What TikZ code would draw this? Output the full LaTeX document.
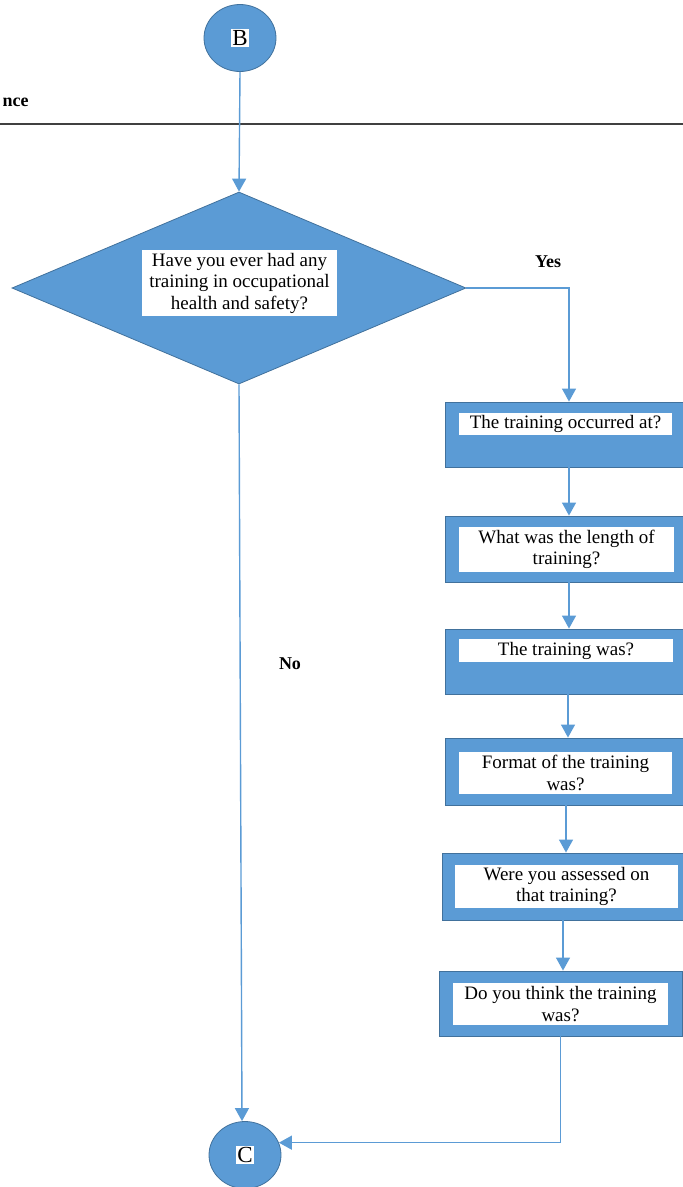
\documentclass[tikz,border=0pt]{standalone}
\usepackage{fontspec}
\setmainfont{Liberation Serif}
\usetikzlibrary{shapes.geometric,arrows.meta}
\definecolor{boxblue}{HTML}{5B9BD5}
\definecolor{edgeblue}{HTML}{41719C}

\begin{document}
\begin{tikzpicture}[x=1pt,y=-1pt,
		flow/.style={draw=boxblue,line width=1.4pt,-{Triangle[length=13pt,width=14pt]}},
		qbox/.style={rectangle,draw=edgeblue,line width=.9pt,fill=boxblue,inner sep=0pt},
		qtext/.style={rectangle,fill=white,align=center,inner sep=1pt,font=\fontsize{19}{21.5}\selectfont},
		term/.style={ellipse,draw=edgeblue,line width=.8pt,fill=boxblue,minimum width=72pt,minimum height=67pt,inner sep=0pt,font=\fontsize{23}{25}\selectfont},
		lbl/.style={font=\fontsize{18}{21}\selectfont\bfseries}]
	
	\useasboundingbox (0,0) rectangle (683,1187);
	\fboxsep=1.5pt
	
	\node[lbl,anchor=west] (sect) at (-1,102) {nce};
	\draw[line width=1.6pt,black!75] (0,124)--(683,124);
	
	\node[term] (B) at (240,38) {\colorbox{white}{B}};
	\node[term] (C) at (245,1155) {\colorbox{white}{C}};
	
	\node[diamond,draw=edgeblue,line width=.8pt,fill=boxblue,minimum width=454pt,minimum height=192pt,inner sep=0pt] (dec) at (239,288) {};
	\node[qtext,minimum width=195pt,minimum height=66pt] (dtxt) at (239.5,283) {Have you ever had any\\training in occupational\\health and safety?};
	
	\node[qbox,minimum width=238pt,minimum height=65pt] (q1) at (564,434.5) {};
	\node[qbox,minimum width=238pt,minimum height=66pt] (q2) at (564,549) {};
	\node[qbox,minimum width=238pt,minimum height=65pt] (q3) at (564,661.5) {};
	\node[qbox,minimum width=238pt,minimum height=67pt] (q4) at (564,771.5) {};
	\node[qbox,minimum width=241pt,minimum height=67pt] (q5) at (562.5,886.5) {};
	\node[qbox,minimum width=243pt,minimum height=65pt] (q6) at (560.5,1003.5) {};
	
	\node[qtext,minimum width=213pt,minimum height=22pt] (t1) at (565.5,424) {The training occurred at?};
	\node[qtext,minimum width=215pt,minimum height=45pt] (t2) at (566.5,549.5) {What was the length of\\training?};
	\node[qtext,minimum width=214pt,minimum height=23pt] (t3) at (566,650.5) {The training was?};
	\node[qtext,minimum width=213pt,minimum height=42pt] (t4) at (565.5,773) {Format of the training\\was?};
	\node[qtext,minimum width=223pt,minimum height=43pt] (t5) at (566.5,886.5) {Were you assessed on\\that training?};
	\node[qtext,minimum width=215pt,minimum height=42pt] (t6) at (560.5,1004) {Do you think the training\\was?};
	
	\node[lbl] (yes) at (548,262) {Yes};
	\node[lbl] (no) at (290,664) {No};
	
	\draw[flow] (B.south)--(dec.north);
	\draw[flow] (dec.east)-|([xshift=5pt]q1.north);
	\foreach \a/\b/\da/\db in {q1/q2/5/5,q2/q3/5/5,q3/q4/4/4,q4/q5/2/3.5,q5/q6/.5/2.5}
		\draw[flow] ([xshift=\da pt]\a.south)--([xshift=\db pt]\b.north);
	\draw[flow] (dec.south)--([xshift=-3pt]C.north);
	\draw[flow] (q6.south)|-(C.20);
	
\end{tikzpicture}
\end{document}
